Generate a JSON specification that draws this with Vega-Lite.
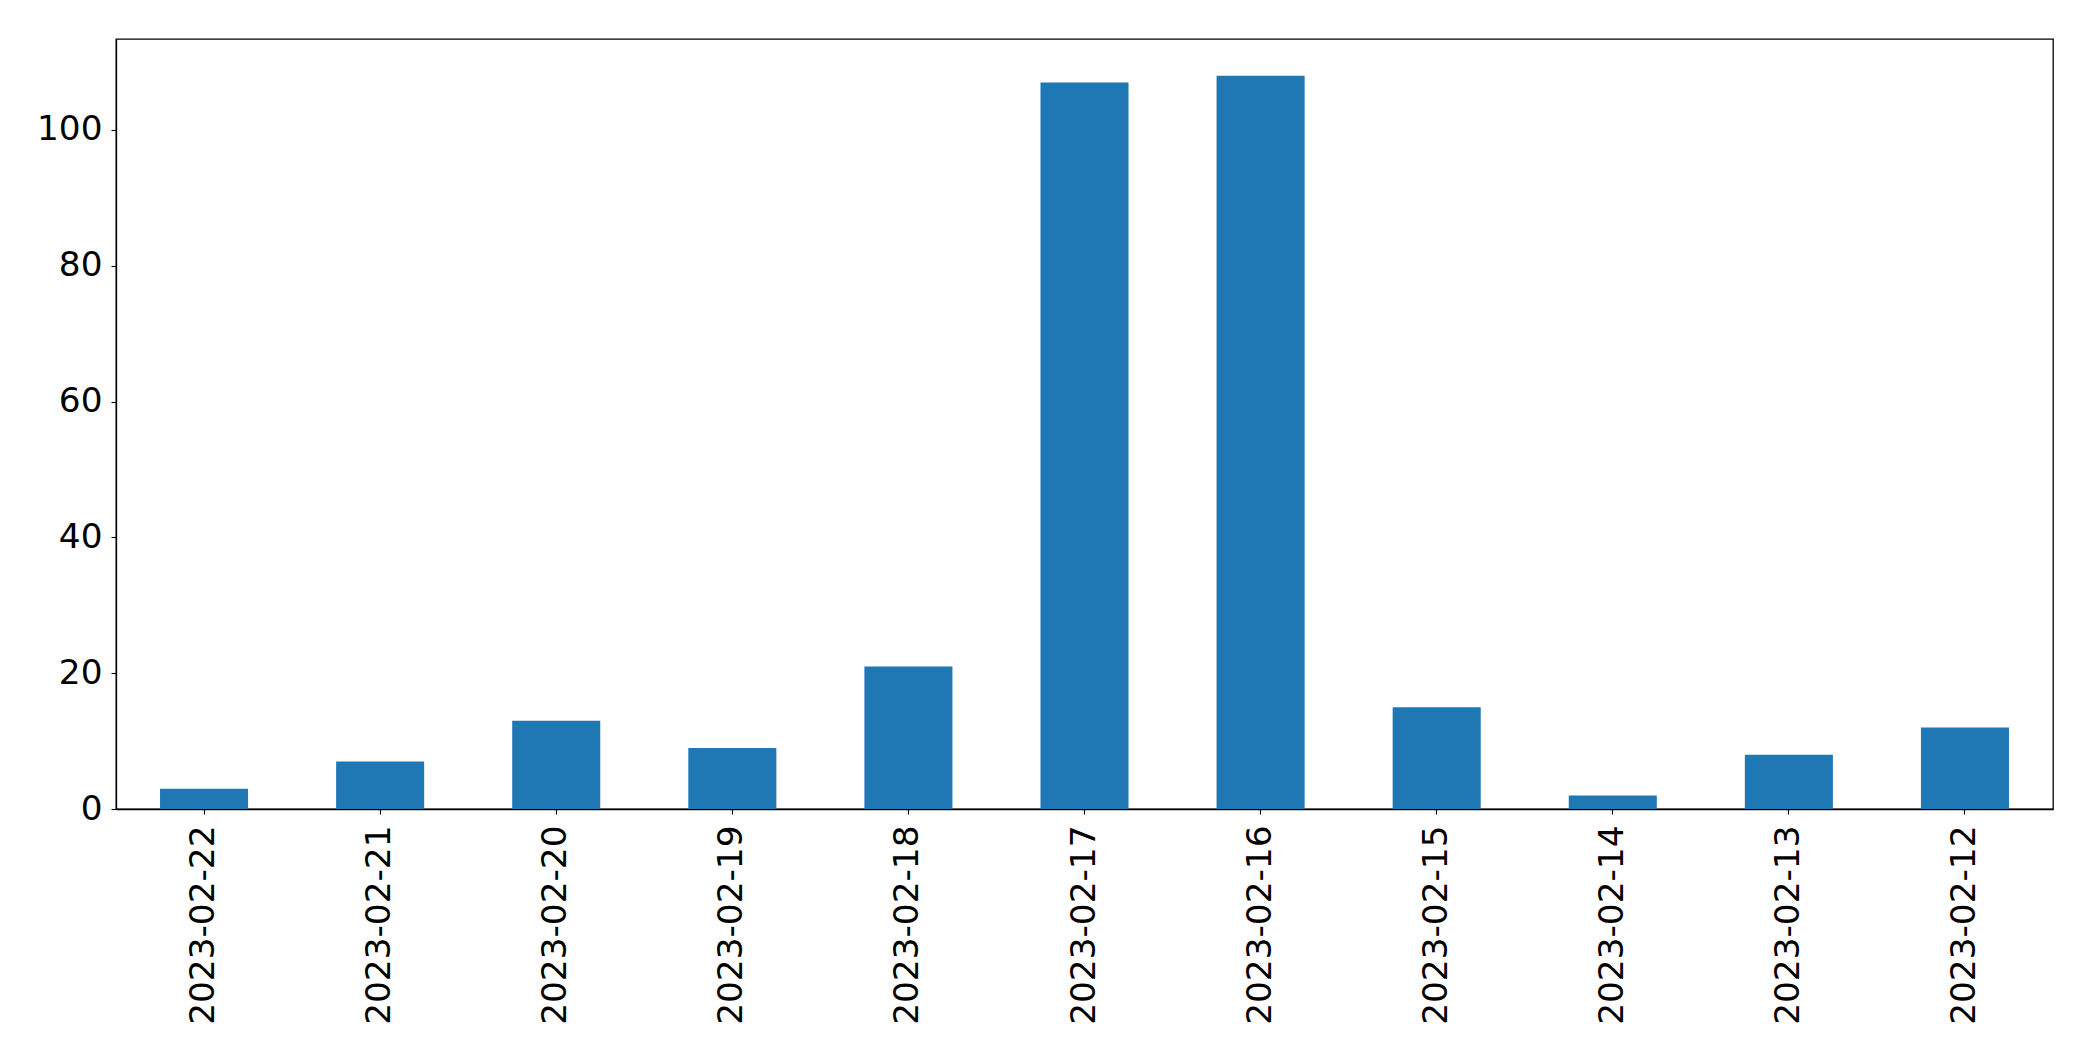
{
  "$schema": "https://vega.github.io/schema/vega-lite/v6.json",
  "autosize": "none",
  "padding": {"left": 116, "top": 39, "right": 40, "bottom": 252},
  "width": 1937,
  "height": 770,
  "background": "white",
  "config": {
    "view": {"stroke": "black", "strokeWidth": 1.3},
    "font": "DejaVu Sans"
  },
  "data": {
    "values": [
      {"date": "2023-02-22", "count": 3},
      {"date": "2023-02-21", "count": 7},
      {"date": "2023-02-20", "count": 13},
      {"date": "2023-02-19", "count": 9},
      {"date": "2023-02-18", "count": 21},
      {"date": "2023-02-17", "count": 107},
      {"date": "2023-02-16", "count": 108},
      {"date": "2023-02-15", "count": 15},
      {"date": "2023-02-14", "count": 2},
      {"date": "2023-02-13", "count": 8},
      {"date": "2023-02-12", "count": 12}
    ]
  },
  "mark": {"type": "bar", "color": "#1f77b4"},
  "encoding": {
    "x": {
      "field": "date",
      "type": "nominal",
      "sort": null,
      "scale": {"paddingInner": 0.5, "paddingOuter": 0.25},
      "axis": {
        "title": null,
        "labelAngle": 270,
        "labelAlign": "right",
        "labelBaseline": "middle",
        "labelFont": "DejaVu Sans",
        "labelFontSize": 34.3,
        "labelLimit": 0,
        "labelColor": "black",
        "labelPadding": 11,
        "tickColor": "black",
        "tickSize": 5,
        "tickWidth": 1.1,
        "domainColor": "black",
        "domainWidth": 1.3
      }
    },
    "y": {
      "field": "count",
      "type": "quantitative",
      "scale": {"domain": [0, 113.4], "nice": false},
      "axis": {
        "title": null,
        "values": [0, 20, 40, 60, 80, 100],
        "grid": false,
        "labelFont": "DejaVu Sans",
        "labelFontSize": 34.3,
        "labelLimit": 0,
        "labelColor": "black",
        "labelPadding": 9,
        "tickColor": "black",
        "tickSize": 5,
        "tickWidth": 1.1,
        "domainColor": "black",
        "domainWidth": 1.3
      }
    }
  }
}
